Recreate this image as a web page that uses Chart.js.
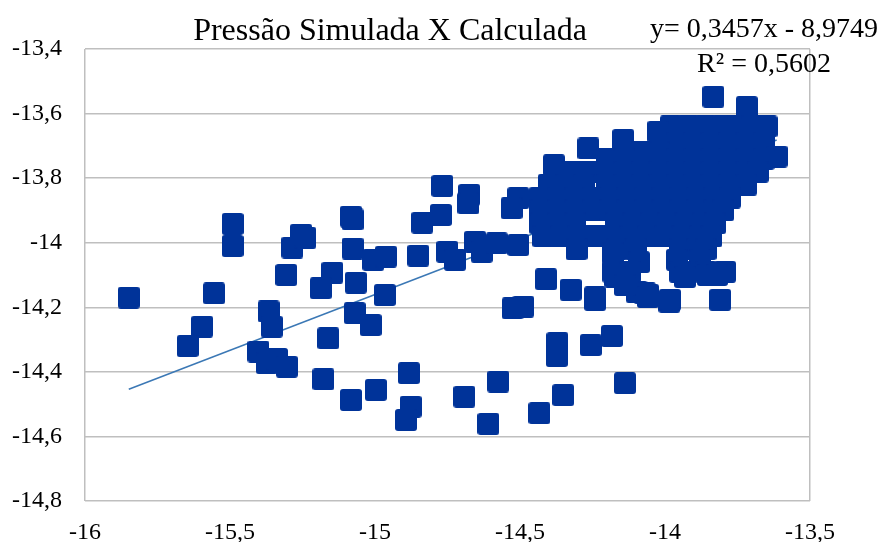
<!DOCTYPE html>
<html lang="pt-BR">
<head>
<meta charset="utf-8">
<title>Pressão Simulada X Calculada</title>
<script src="https://cdn.jsdelivr.net/npm/chart.js@4.4.1/dist/chart.umd.min.js"></script>
<style>
  body { margin: 0; background: #fff; }
  #caixa { width: 887px; height: 542px; position: relative; }
</style>
</head>
<body>
<div id="caixa"><canvas id="grafico"></canvas></div>
<script>
// Textos do gráfico
const titulo = "Pressão Simulada X Calculada";
const equacao = "y= 0,3457x - 8,9749";
const textoR2 = "R² = 0,5602";

// Marcas dos eixos
const ticksX = [-16, -15.5, -15, -14.5, -14, -13.5];
const ticksY = [-14.8, -14.6, -14.4, -14.2, -14, -13.8, -13.6, -13.4];

// Pontos espalhados (x = calculada, y = simulada)
const pontosDispersos = [
  [-15.849, -14.170], [-15.491, -13.942], [-15.491, -14.010], [-15.555, -14.157],
  [-15.596, -14.260], [-15.646, -14.320], [-15.306, -14.100], [-15.255, -13.975],
  [-15.285, -14.015], [-15.240, -13.985], [-15.083, -13.919], [-15.077, -13.928],
  [-15.077, -14.018], [-15.147, -14.093], [-15.187, -14.141], [-15.066, -14.124],
  [-15.006, -14.053], [-14.962, -14.043], [-14.966, -14.162], [-14.837, -13.938],
  [-14.851, -14.040], [-14.768, -13.824], [-15.367, -14.213], [-15.356, -14.260],
  [-15.402, -14.337], [-15.373, -14.373], [-15.338, -14.360], [-15.304, -14.384],
  [-15.070, -14.218], [-15.015, -14.255], [-15.161, -14.296], [-15.178, -14.423],
  [-15.083, -14.487], [-14.997, -14.456], [-14.883, -14.404], [-14.877, -14.508],
  [-14.893, -14.549], [-14.675, -13.852], [-14.678, -13.878], [-14.773, -13.914],
  [-14.751, -14.028], [-14.724, -14.053], [-14.655, -13.997], [-14.632, -14.028],
  [-14.580, -14.002], [-14.506, -13.862], [-14.529, -13.893], [-14.506, -14.007],
  [-14.410, -14.113], [-14.325, -14.146], [-14.241, -14.169], [-14.525, -14.203],
  [-14.489, -14.198], [-14.371, -14.311], [-14.373, -14.351], [-14.256, -14.317],
  [-14.183, -14.289], [-14.138, -14.435], [-14.692, -14.477], [-14.575, -14.430],
  [-14.609, -14.561], [-14.351, -14.472], [-14.433, -14.528], [-13.985, -14.183],
  [-14.058, -14.162], [-14.098, -14.152], [-14.069, -14.157], [-14.241, -14.177]
];

// Pontos da região concentrada (canto superior direito)
const pontosConcentrados = [
  [-13.833, -13.548], [-13.718, -13.580],
  [-13.98, -13.64], [-13.92, -13.64], [-13.86, -13.64], [-13.80, -13.64], [-13.75, -13.64],
  [-13.70, -13.64], [-13.65, -13.64],
  [-14.023, -13.656], [-14.144, -13.682],
  [-13.96, -13.69], [-13.90, -13.69], [-13.84, -13.69], [-13.78, -13.69], [-13.72, -13.69],
  [-13.66, -13.69],
  [-14.264, -13.708], [-14.08, -13.72], [-14.02, -13.72], [-13.615, -13.733],
  [-14.20, -13.74], [-14.14, -13.74], [-13.96, -13.74], [-13.90, -13.74], [-13.84, -13.74],
  [-13.78, -13.74], [-13.72, -13.74], [-13.66, -13.74],
  [-14.383, -13.76],
  [-14.32, -13.78], [-14.26, -13.78], [-14.20, -13.78], [-14.14, -13.78], [-14.08, -13.78],
  [-14.02, -13.78], [-13.96, -13.78], [-13.90, -13.78], [-13.84, -13.78], [-13.78, -13.78],
  [-13.72, -13.78], [-13.68, -13.78],
  [-14.40, -13.82], [-14.34, -13.82], [-14.28, -13.82], [-14.20, -13.82], [-14.14, -13.82],
  [-14.08, -13.82], [-14.02, -13.82], [-13.96, -13.82], [-13.90, -13.82], [-13.84, -13.82],
  [-13.78, -13.82], [-13.72, -13.82],
  [-14.43, -13.86], [-14.37, -13.86], [-14.31, -13.86], [-14.25, -13.86], [-14.19, -13.86],
  [-14.13, -13.86], [-14.07, -13.86], [-14.01, -13.86], [-13.95, -13.86], [-13.89, -13.86],
  [-13.83, -13.86], [-13.776, -13.86],
  [-14.43, -13.90], [-14.37, -13.90], [-14.31, -13.90], [-14.25, -13.90], [-14.19, -13.90],
  [-14.13, -13.90], [-14.07, -13.90], [-14.01, -13.90], [-13.95, -13.90], [-13.89, -13.90],
  [-13.83, -13.90], [-13.80, -13.90],
  [-14.43, -13.94], [-14.37, -13.94], [-14.31, -13.94], [-14.17, -13.94],
  [-14.11, -13.94], [-14.05, -13.94], [-13.99, -13.94], [-13.93, -13.94], [-13.87, -13.94],
  [-13.828, -13.94],
  [-14.42, -13.98], [-14.36, -13.98], [-14.30, -13.98], [-14.24, -13.98], [-14.18, -13.98],
  [-14.12, -13.98], [-14.06, -13.98], [-14.00, -13.98], [-13.94, -13.98], [-13.88, -13.98],
  [-13.84, -13.98],
  [-14.305, -14.02], [-14.167, -14.02], [-14.10, -14.02], [-13.95, -14.02],
  [-13.89, -14.02], [-13.86, -14.02],
  [-14.179, -14.033], [-14.09, -14.06], [-13.959, -14.053], [-13.879, -14.053],
  [-14.178, -14.09], [-14.12, -14.09], [-13.948, -14.09], [-13.86, -14.09], [-13.793, -14.09],
  [-14.172, -14.105], [-13.931, -14.106], [-13.852, -14.10], [-13.821, -14.10],
  [-14.138, -14.131], [-14.059, -14.168],
  [-13.983, -14.177], [-13.81, -14.177]
];

// Linha de tendência (início e fim)
const linhaTendencia = [[-15.849, -14.454], [-13.615, -13.682]];

const azulPonto = "#003399";
const cinzaGrade = "#bfbfbf";

function criarMarcador() {
  const c = document.createElement("canvas");
  c.width = 22;
  c.height = 22;
  const g = c.getContext("2d");
  g.fillStyle = azulPonto;
  g.beginPath();
  g.roundRect(0, 0, 22, 22, 3);
  g.fill();
  return c;
}

function formatar(v) {
  return String(v).replace(".", ",");
}

// Título e equação desenhados como texto livre (como no Excel)
const textos = {
  id: "textos",
  afterDraw(chart) {
    const ctx = chart.ctx;
    ctx.save();
    ctx.fillStyle = "#000";
    ctx.textAlign = "center";
    ctx.textBaseline = "alphabetic";
    ctx.font = "32px 'Liberation Serif'";
    ctx.fillText(titulo, 390, 40);
    ctx.font = "28px 'Liberation Serif'";
    ctx.fillText(equacao, 764, 37);
    ctx.fillText(textoR2, 764, 72);
    ctx.restore();
  }
};

const fonteEixo = { family: "'Liberation Serif'", size: 24 };
const marcador = criarMarcador();

const ctx = document.getElementById("grafico").getContext("2d");
new Chart(ctx, {
  type: "scatter",
  data: {
    datasets: [
      {
        label: "Pressão",
        data: pontosDispersos.concat(pontosConcentrados).map(p => ({ x: p[0], y: p[1] })),
        pointStyle: marcador,
        pointRadius: 11,
        pointHoverRadius: 11,
        order: 0
      },
      {
        label: "Tendência",
        data: linhaTendencia.map(p => ({ x: p[0], y: p[1] })),
        showLine: true,
        borderColor: "#3b78b5",
        borderWidth: 1.5,
        pointRadius: 0,
        order: 1
      }
    ]
  },
  options: {
    responsive: true,
    maintainAspectRatio: false,
    animation: false,
    layout: { padding: { top: 49, right: 77, left: 0, bottom: 0 } },
    plugins: {
      legend: { display: false },
      tooltip: { enabled: false },
      title: { display: false }
    },
    scales: {
      x: {
        type: "linear",
        min: -16,
        max: -13.5,
        afterBuildTicks: (a) => { a.ticks = ticksX.map(v => ({ value: v })); },
        afterFit: (a) => { a.height = 41; },
        border: { display: false },
        grid: {
          drawTicks: false,
          lineWidth: 1.5,
          color: (c) => (c.index === 0 || c.index === ticksX.length - 1) ? cinzaGrade : "rgba(0,0,0,0)"
        },
        ticks: { padding: 17, color: "#000", font: fonteEixo, maxRotation: 0, autoSkip: false, callback: formatar }
      },
      y: {
        type: "linear",
        min: -14.8,
        max: -13.4,
        afterBuildTicks: (a) => { a.ticks = ticksY.map(v => ({ value: v })); },
        afterFit: (a) => { a.width = 85; },
        border: { display: false },
        grid: { drawTicks: false, lineWidth: 1.5, color: cinzaGrade },
        ticks: { padding: 23, color: "#000", font: fonteEixo, autoSkip: false, callback: formatar }
      }
    }
  },
  plugins: [textos]
});
</script>
</body>
</html>
